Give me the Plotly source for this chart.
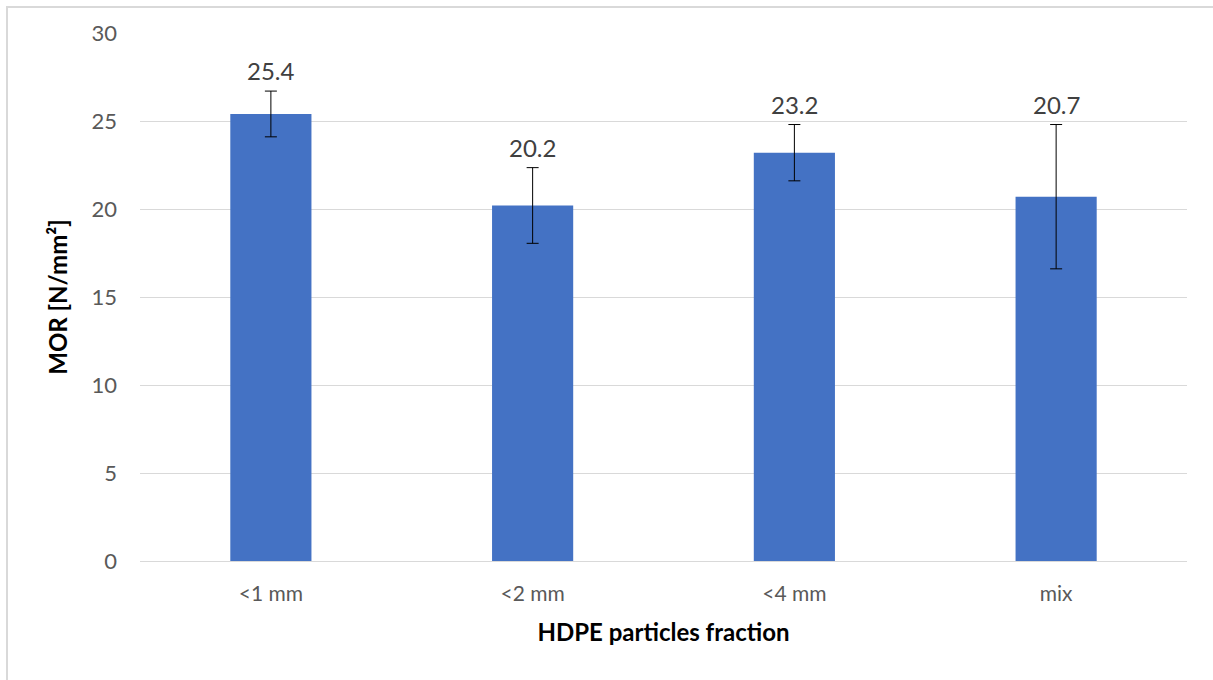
import plotly.graph_objects as go

categories = ["<1 mm", "<2 mm", "<4 mm", "mix"]
mor_values = [25.4, 20.2, 23.2, 20.7]
mor_errors = [1.3, 2.15, 1.6, 4.1]
y_ticks = [0, 5, 10, 15, 20, 25, 30]

W, H = 1213, 680
ml, mr, mt, mb = 140, 26, 33, 119
pw = W - ml - mr
ph = H - mt - mb

fig = go.Figure()
fig.add_trace(go.Bar(
    x=categories, y=mor_values,
    marker=dict(color="#4472C4", line=dict(width=0)),
    error_y=dict(type="data", array=mor_errors, visible=True,
                 color="#000000", thickness=1, width=6),
    hoverinfo="skip",
))

for c, v, e in zip(categories, mor_values, mor_errors):
    fig.add_annotation(x=c, y=v + e, text=f"{v:.1f}", showarrow=False,
                       yanchor="bottom", yshift=4,
                       font=dict(size=24, color="#404040", family="Lato"))

fig.add_shape(type="rect", xref="paper", yref="paper",
              x0=(7 - ml) / pw, x1=(1240 - ml) / pw,
              y0=-(700 - mt - ph) / ph, y1=1 + (mt - 7) / ph,
              line=dict(color="#d9d9d9", width=2), layer="below")

fig.update_layout(
    width=W, height=H,
    margin=dict(l=ml, r=mr, t=mt, b=mb, autoexpand=False),
    paper_bgcolor="white", plot_bgcolor="white",
    bargap=0.69, showlegend=False,
    font=dict(family="Lato", color="#595959", size=21),
)
fig.update_xaxes(
    showgrid=False, showline=True, linecolor="#d9d9d9", linewidth=1,
    ticks="", tickfont=dict(size=21, color="#595959"), ticklabelstandoff=14,
    title=dict(text="<b>HDPE particles fraction</b>",
               font=dict(size=24, color="#000000", family="Lato"), standoff=19),
)
fig.update_yaxes(
    range=[0, 30], tickvals=y_ticks, showgrid=True, gridcolor="#d9d9d9",
    gridwidth=1, zeroline=False, showline=False, ticks="",
    tickfont=dict(size=22, color="#595959"), ticklabelstandoff=22,
    title=dict(text="<b>MOR [N/mm²]</b>",
               font=dict(size=24, color="#000000", family="Lato"), standoff=17),
)

fig.write_html("out.html", config={"displayModeBar": False},
               post_script="document.body.style.margin='0';")
